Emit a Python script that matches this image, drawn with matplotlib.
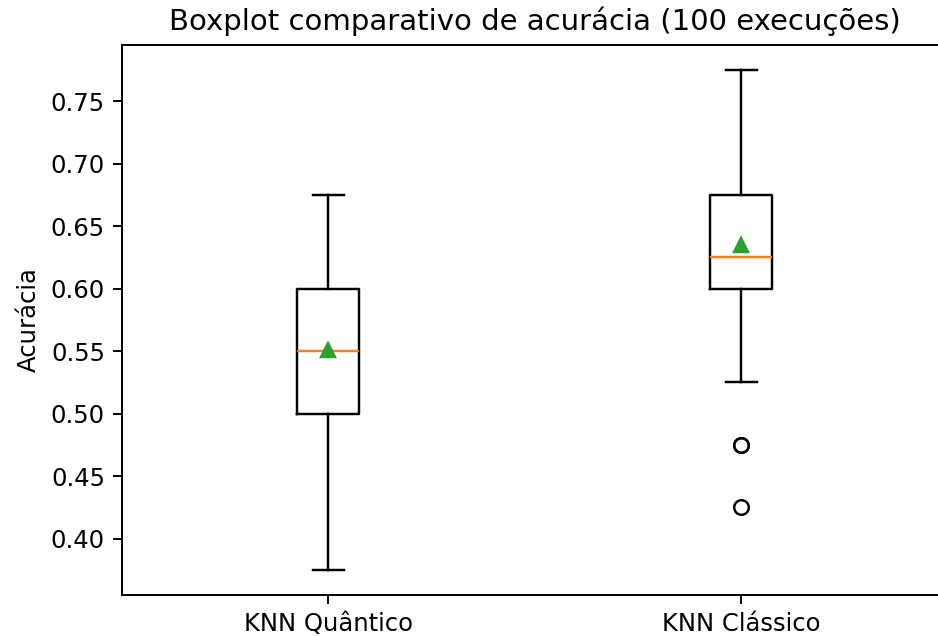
import matplotlib
matplotlib.use("Agg")
import matplotlib.pyplot as plt

# Accuracy summary statistics over 100 runs for each classifier
labels = ["KNN Quântico", "KNN Clássico"]
whisker_low = [0.375, 0.525]
q1 = [0.50, 0.60]
medians = [0.55, 0.625]
q3 = [0.60, 0.675]
whisker_high = [0.675, 0.775]
means = [0.551, 0.635]
outliers = [[], [0.475, 0.475, 0.425]]

stats = [
    {"label": lab, "whislo": wl, "q1": a, "med": m, "q3": b,
     "whishi": wh, "mean": mu, "fliers": fl}
    for lab, wl, a, m, b, wh, mu, fl in zip(labels, whisker_low, q1, medians,
                                            q3, whisker_high, means, outliers)
]

fig = plt.figure(figsize=(938 / 175, 636 / 175), dpi=175)
ax = fig.add_axes([0.130, 0.0645, 0.8806, 0.8648])
ax.bxp(stats, showmeans=True)
ax.set_title("Boxplot comparativo de acurácia (100 execuções)")
ax.set_ylabel("Acurácia")

fig.savefig("out.png", dpi=175)
